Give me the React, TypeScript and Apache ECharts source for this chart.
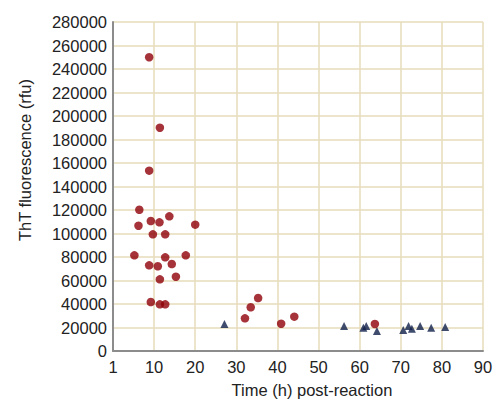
import React, { useEffect, useRef } from "react";
import * as echarts from "echarts";

const redTime = [8.8, 11.4, 8.8, 6.4, 6.2, 9.2, 11.3, 13.7, 20.0, 9.7, 12.7, 5.2, 12.7, 17.7, 8.8, 10.9, 14.3, 11.4, 15.3, 9.2, 11.4, 12.7, 32.1, 33.5, 35.3, 40.9, 44.1, 63.7];
const redFluor = [250000, 190000, 153500, 120200, 106600, 110600, 109500, 114600, 107500, 99300, 99300, 81400, 79700, 81400, 72900, 72100, 74000, 61000, 63200, 41700, 39700, 39700, 27800, 37200, 45100, 23200, 29200, 23000];
const blueTime = [27.1, 56.2, 60.9, 61.6, 64.2, 70.6, 71.9, 72.7, 74.7, 77.4, 80.8];
const blueFluor = [23000, 21200, 19800, 21200, 17000, 17800, 21200, 19000, 21200, 19800, 20500];

const xTicks = { min: 0, max: 90, interval: 10 };
const yTicks = { min: 0, max: 280000, interval: 20000 };

const xTitle = "Time (h) post-reaction";
const yTitle = "ThT fluorescence (rfu)";

const FONT = "Liberation Sans, Arial, Helvetica, sans-serif";

export default function App() {
  const ref = useRef<HTMLDivElement>(null);
  useEffect(() => {
    if (!ref.current) return;
    const chart = echarts.init(ref.current, null, { renderer: "svg" });
    const gridLine = { show: true, lineStyle: { color: "#e6ddbb", width: 1.5 } };
    chart.setOption({
      animation: false,
      backgroundColor: "#ffffff",
      grid: { left: 113, top: 22, right: 14, bottom: 50, containLabel: false },
      xAxis: {
        type: "value",
        min: xTicks.min,
        max: xTicks.max,
        interval: xTicks.interval,
        axisLine: { show: true, onZero: false, lineStyle: { color: "#8c8c8c", width: 2 } },
        axisTick: { show: false },
        splitLine: gridLine,
        axisLabel: {
          color: "#222",
          fontSize: 16.5,
          fontFamily: FONT,
          margin: 7,
          formatter: (v: number) => (v === 0 ? "1" : String(v)),
        },
      },
      yAxis: {
        type: "value",
        min: yTicks.min,
        max: yTicks.max,
        interval: yTicks.interval,
        axisLine: { show: true, onZero: false, lineStyle: { color: "#8c8c8c", width: 2 } },
        axisTick: { show: false },
        splitLine: gridLine,
        axisLabel: {
          color: "#222",
          fontSize: 16.5,
          fontFamily: FONT,
          margin: 6,
          formatter: (v: number) => String(v),
        },
      },
      graphic: [
        {
          type: "text",
          x: 312,
          y: 390,
          style: {
            text: xTitle,
            fill: "#222",
            fontSize: 16.5,
            fontFamily: FONT,
            align: "center",
            verticalAlign: "middle",
          },
        },
        {
          type: "text",
          x: 25,
          y: 160,
          rotation: Math.PI / 2,
          style: {
            text: yTitle,
            fill: "#222",
            fontSize: 16.5,
            fontFamily: FONT,
            align: "center",
            verticalAlign: "middle",
          },
        },
      ],
      series: [
        {
          type: "scatter",
          symbol: "triangle",
          symbolSize: 8,
          itemStyle: { color: "#101f4a" },
          data: blueTime.map((t, i) => [t, blueFluor[i]]),
          z: 2,
        },
        {
          type: "scatter",
          symbol: "circle",
          symbolSize: 8.5,
          itemStyle: { color: "#8e0008" },
          data: redTime.map((t, i) => [t, redFluor[i]]),
          z: 3,
        },
      ],
    });
    return () => chart.dispose();
  }, []);
  return <div ref={ref} style={{ width: 497, height: 401, position: "absolute", left: 0, top: 0 }} />;
}
